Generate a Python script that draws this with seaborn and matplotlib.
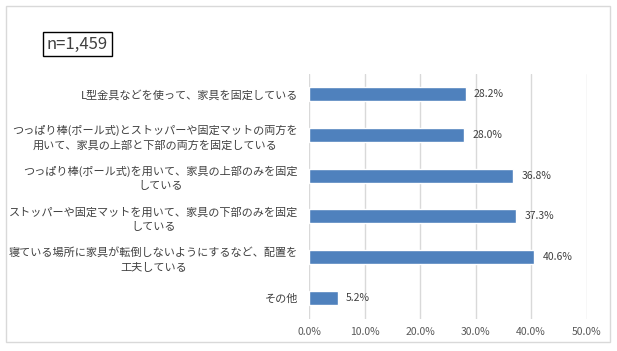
import matplotlib
matplotlib.use("Agg")
import matplotlib.pyplot as plt
import seaborn as sns
import pandas as pd
from matplotlib.patches import Rectangle

categories = [
    "L型金具などを使って、家具を固定している",
    "つっぱり棒(ポール式)とストッパーや固定マットの両方を\n用いて、家具の上部と下部の両方を固定している",
    "つっぱり棒(ポール式)を用いて、家具の上部のみを固定\nしている",
    "ストッパーや固定マットを用いて、家具の下部のみを固定\nしている",
    "寝ている場所に家具が転倒しないようにするなど、配置を\n工夫している",
    "その他",
]
values = [28.2, 28.0, 36.8, 37.3, 40.6, 5.2]
xticks = [0, 10, 20, 30, 40, 50]
xtick_labels = ["0.0%", "10.0%", "20.0%", "30.0%", "40.0%", "50.0%"]
n_label = "n=1,459"

sns.set_theme(style="white")
plt.rcParams["font.family"] = ["Noto Sans CJK JP", "DejaVu Sans"]

W, H = 617, 351
fig = plt.figure(figsize=(W / 100, H / 100), dpi=100)
fig.patch.set_facecolor("white")

# outer border
fig.add_artist(Rectangle((6 / W, 9 / H), 604 / W, 336 / H, transform=fig.transFigure,
                         fill=False, edgecolor="#d9d9d9", linewidth=1))

left, right = 309, 586.5
top, bottom = 73.5, 318.5
ax = fig.add_axes([left / W, (H - bottom) / H, (right - left) / W, (bottom - top) / H])

df = pd.DataFrame({"cat": categories, "val": values})
sns.barplot(data=df, x="val", y="cat", orient="h", color="#4f81bd", width=0.34,
            saturation=1, ax=ax)

ax.set_xlim(0, 50)
ax.set_xticks(xticks)
ax.set_xticklabels(xtick_labels, color="#595959", fontsize=7.5)
ax.set_xlabel("")
ax.set_ylabel("")
ax.tick_params(axis="x", length=0, pad=6)
ax.tick_params(axis="y", length=0, pad=8)
for lab in ax.get_yticklabels():
    lab.set_multialignment("center")
    lab.set_fontsize(8)
    lab.set_color("#404040")
    lab.set_linespacing(1.5)
ax.grid(axis="x", color="#d9d9d9", linewidth=1)
ax.set_axisbelow(True)
for s in ax.spines.values():
    s.set_visible(False)

for i, v in enumerate(values):
    ax.annotate(f"{v:.1f}%", xy=(v, i), xytext=(6, 0), textcoords="offset points",
                ha="left", va="center", fontsize=7.5, color="#404040")

fig.text(47 / W, (H - 44) / H, n_label, ha="left", va="center", fontsize=12,
         color="#404040",
         bbox=dict(boxstyle="square,pad=0.22", facecolor="white", edgecolor="black",
                   linewidth=1))

fig.savefig("out.png", dpi=100)
